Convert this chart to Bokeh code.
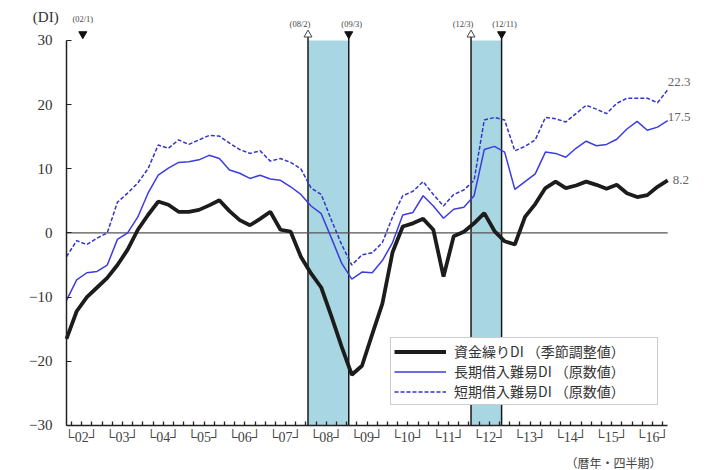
from bokeh.plotting import figure
from bokeh.models import Range1d, FixedTicker, Label, Legend, LegendItem, ColumnDataSource
from bokeh.embed import file_html
from bokeh.resources import INLINE
from bokeh.core.properties import value

# ---- data (quarterly, 2002Q1 .. 2016Q4) ----
quarters = list(range(60))
year_labels = ["02", "03", "04", "05", "06", "07", "08", "09", "10", "11", "12", "13", "14", "15", "16"]

shikinguri = [-16.5, -12.2, -10.0, -8.5, -7.0, -5.0, -2.6, 0.5, 2.8, 4.9,
              4.4, 3.3, 3.3, 3.6, 4.3, 5.1, 3.4, 2.0, 1.2, 2.2,
              3.3, 0.5, 0.2, -3.7, -6.3, -8.5, -13.0, -17.7, -22.1, -20.7,
              -15.8, -11.0, -3.0, 1.0, 1.5, 2.2, 0.5, -6.8, -0.5, 0.2,
              1.5, 3.1, 0.3, -1.3, -1.8, 2.5, 4.5, 7.0, 8.0, 7.0,
              7.4, 8.0, 7.5, 6.9, 7.5, 6.2, 5.6, 5.9, 7.2, 8.2]

choki = [-10.5, -7.3, -6.2, -6.0, -5.0, -1.0, 0.0, 2.5, 6.2, 9.0,
         10.1, 11.0, 11.1, 11.4, 12.1, 11.6, 9.8, 9.3, 8.5, 9.0,
         8.4, 8.2, 7.2, 6.0, 4.2, 3.0, -0.8, -4.7, -7.2, -6.1,
         -6.2, -4.3, -1.5, 2.8, 3.2, 5.8, 4.2, 2.3, 3.7, 4.0,
         5.8, 13.0, 13.5, 12.6, 6.8, 8.0, 9.2, 12.6, 12.4, 11.8,
         13.2, 14.3, 13.6, 13.8, 14.6, 16.2, 17.4, 16.0, 16.5, 17.5]

tanki = [-3.7, -1.2, -1.8, -0.8, 0.0, 4.8, 6.2, 7.8, 10.0, 13.7,
         13.2, 14.5, 13.8, 14.5, 15.2, 15.1, 14.0, 13.0, 12.4, 12.8,
         11.2, 11.6, 11.0, 10.0, 7.0, 6.0, 2.0, -1.8, -5.0, -3.4,
         -3.1, -1.5, 2.5, 5.8, 6.5, 8.0, 6.0, 4.2, 6.0, 6.7,
         8.2, 17.6, 18.0, 17.6, 12.8, 13.5, 14.5, 18.0, 17.8, 17.3,
         18.6, 19.9, 19.3, 18.6, 20.2, 21.0, 21.0, 21.0, 20.3, 22.3]

# business cycle turning points (quarter-index position)
peak_labels = ["(08/2)", "(12/3)"]
peak_x = [23.7, 39.7]
trough_labels = ["(02/1)", "(09/3)", "(12/11)"]
trough_x = [1.6, 27.7, 42.7]

series_names = ["資金繰りDI （季節調整値）", "長期借入難易DI （原数値）", "短期借入難易DI （原数値）"]
y_ticks = [-30, -20, -10, 0, 10, 20, 30]

SERIF = "Liberation Serif"
JP = "Noto Sans CJK JP"

p = figure(width=711, height=470, output_backend="svg", toolbar_location=None,
           x_range=Range1d(-6.477, 63.3), y_range=Range1d(-37.02, 36.23),
           min_border=0, min_border_left=0, min_border_right=0,
           min_border_top=0, min_border_bottom=0)
p.outline_line_color = None
p.xgrid.visible = False
p.ygrid.visible = False
p.background_fill_color = "white"
p.border_fill_color = "white"

# recession shading
p.quad(left=[peak_x[0], peak_x[1]], right=[trough_x[1], trough_x[2]],
       bottom=y_ticks[0], top=y_ticks[-1], fill_color="#a8d6e2", line_color=None)
# boundary lines
p.segment(x0=peak_x + trough_x[1:], y0=y_ticks[0], x1=peak_x + trough_x[1:], y1=30.6,
          line_color="#1a1a1a", line_width=1.5)

# zero line
p.line(x=[quarters[0], quarters[-1]], y=[0, 0], line_color="#555555", line_width=1.2)

r_black = p.line(quarters, shikinguri, line_color="#1c1c1c", line_width=3.8)
r_long = p.line(quarters, choki, line_color="#3c3ce0", line_width=1.5)
r_short = p.line(quarters, tanki, line_color="#3434c8", line_width=1.5, line_dash="4 2")

# turning-point markers
p.scatter(peak_x, [30.9] * len(peak_x), marker="triangle", size=8,
          fill_color="white", line_color="#444444", line_width=1)
p.scatter(trough_x, [31.0] * len(trough_x), marker="inverted_triangle", size=8,
          fill_color="#111111", line_color="#111111")

src_pk = ColumnDataSource(dict(x=peak_x, t=peak_labels))
p.text(x="x", y=32.6, text="t", source=src_pk, text_font=value(SERIF), text_font_size="8.5px",
       text_color="#444444", text_align="center", text_baseline="middle", x_offset=-8)
src_tr = ColumnDataSource(dict(x=trough_x[1:], t=trough_labels[1:]))
p.text(x="x", y=32.6, text="t", source=src_tr, text_font=value(SERIF), text_font_size="8.5px",
       text_color="#444444", text_align="center", text_baseline="middle", x_offset=3)

p.add_layout(Label(x=-3.3, y=33.6, text="(DI)", text_font=SERIF,
                   text_font_size="15px", text_color="#333333", text_baseline="middle"))
p.add_layout(Label(x=trough_x[0], y=33.3, text=trough_labels[0], text_font=SERIF,
                   text_font_size="8.5px", text_color="#444444", text_baseline="middle",
                   text_align="center"))

# end-value labels
p.add_layout(Label(x=quarters[-1], y=tanki[-1], text=f"{tanki[-1]:.1f}", text_font=SERIF,
                   text_font_size="13px", text_color="#666666", text_baseline="middle",
                   x_offset=0, y_offset=8))
p.add_layout(Label(x=quarters[-1], y=choki[-1], text=f"{choki[-1]:.1f}", text_font=SERIF,
                   text_font_size="13px", text_color="#666666", text_baseline="middle",
                   x_offset=0, y_offset=4))
p.add_layout(Label(x=quarters[-1], y=shikinguri[-1], text=f"{shikinguri[-1]:.1f}", text_font=SERIF,
                   text_font_size="13px", text_color="#666666", text_baseline="middle",
                   x_offset=5, y_offset=0))

# y axis (drawn at x = first quarter)
ya = p.yaxis[0]
ya.fixed_location = quarters[0]
ya.ticker = FixedTicker(ticks=y_ticks)
ya.bounds = (y_ticks[0], y_ticks[-1])
ya.major_tick_in = 5
ya.major_tick_out = 0
ya.minor_tick_in = 0
ya.minor_tick_out = 0
ya.axis_line_width = 1.5
ya.axis_line_color = "#222222"
ya.major_tick_line_color = "#222222"
ya.major_label_text_font = SERIF
ya.major_label_text_font_size = "15px"
ya.major_label_text_color = "#333333"
ya.major_label_standoff = 14

# x axis (drawn at y = -30)
year_centers = [4 * k + 1.5 for k in range(len(year_labels))]
xa = p.xaxis[0]
xa.fixed_location = y_ticks[0]
xa.ticker = FixedTicker(ticks=year_centers, minor_ticks=[q + 0.5 for q in quarters[:-1]])
xa.bounds = (quarters[0], quarters[-1])
xa.major_label_overrides = {c: "└" + lab + "┘" for c, lab in zip(year_centers, year_labels)}
xa.major_tick_in = 0
xa.major_tick_out = 0
xa.minor_tick_in = 4
xa.minor_tick_out = 0
xa.minor_tick_line_color = "#222222"
xa.minor_tick_line_width = 1.3
xa.axis_line_width = 1.5
xa.axis_line_color = "#222222"
xa.major_label_text_font = SERIF
xa.major_label_text_font_size = "14px"
xa.major_label_text_color = "#444444"
xa.major_label_standoff = 5

p.add_layout(Label(x=58.4, y=-35.7, text="（暦年・四半期）",
                   text_font=JP, text_font_size="12px", text_color="#444444",
                   text_align="right", text_baseline="middle"))

legend = Legend(items=[LegendItem(label=series_names[0], renderers=[r_black]),
                       LegendItem(label=series_names[1], renderers=[r_long]),
                       LegendItem(label=series_names[2], renderers=[r_short])],
                location=(390, 65))
legend.label_text_font = JP
legend.label_text_font_size = "14px"
legend.label_text_color = "#333333"
legend.glyph_width = 52
legend.glyph_height = 17
legend.label_height = 17
legend.label_width = 200
legend.label_standoff = 8
legend.spacing = 0
legend.padding = 3
legend.margin = 0
legend.border_line_color = "#999999"
legend.border_line_width = 1
legend.background_fill_color = "white"
legend.background_fill_alpha = 1.0
p.add_layout(legend)

open("out.html", "w").write(file_html(p, INLINE))
